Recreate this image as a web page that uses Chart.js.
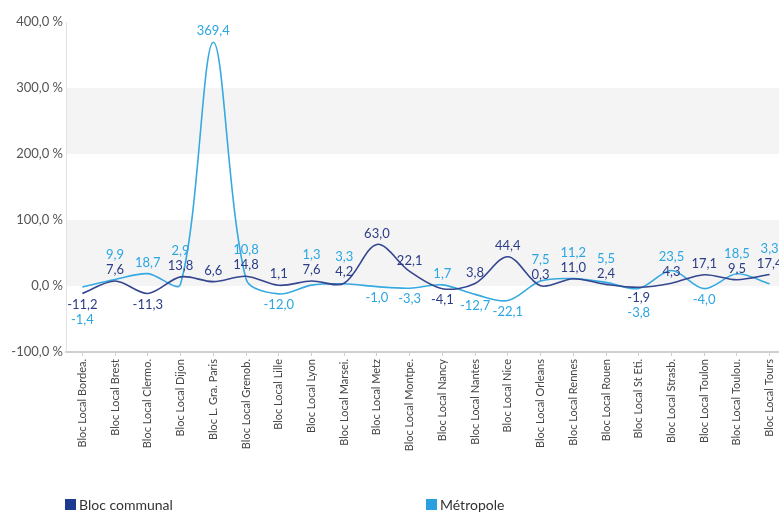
<!DOCTYPE html>
<html>
<head>
<meta charset="utf-8">
<script src="https://cdn.jsdelivr.net/npm/chart.js@4.4.0/dist/chart.umd.min.js"></script>
<style>
html,body{margin:0;padding:0;background:#fff;overflow:hidden;width:779px;height:514px;}
#wrap{position:relative;width:786px;height:514px;}
.leg{position:absolute;top:496px;font-family:Lato,"Open Sans",sans-serif;font-size:14px;color:#333;display:flex;align-items:center;}
.leg span.sq{display:inline-block;width:11px;height:11px;margin-right:3px;}
</style>
</head>
<body>
<div id="wrap">
<canvas id="c" width="786" height="514"></canvas>
<div class="leg" style="left:65px"><span class="sq" style="background:#1c3a8f"></span>Bloc communal</div>
<div class="leg" style="left:426px"><span class="sq" style="background:#2aa0e0"></span>Métropole</div>
</div>
<script>
const categories = ["Bloc Local Bordea.","Bloc Local Brest","Bloc Local Clermo.","Bloc Local Dijon","Bloc L. Gra. Paris","Bloc Local Grenob.","Bloc Local Lille","Bloc Local Lyon","Bloc Local Marsei.","Bloc Local Metz","Bloc Local Montpe.","Bloc Local Nancy","Bloc Local Nantes","Bloc Local Nice","Bloc Local Orleans","Bloc Local Rennes","Bloc Local Rouen","Bloc Local St Eti.","Bloc Local Strasb.","Bloc Local Toulon","Bloc Local Toulou.","Bloc Local Tours"];
const blocCommunal = [-11.2, 7.6, -11.3, 13.8, 6.6, 14.8, 1.1, 7.6, 4.2, 63.0, 22.1, -4.1, 3.8, 44.4, 0.3, 11.0, 2.4, -1.9, 4.3, 17.1, 9.5, 17.4];
const metropole = [-1.4, 9.9, 18.7, 2.9, 369.4, 10.8, -12.0, 1.3, 3.3, -1.0, -3.3, 1.7, -12.7, -22.1, 7.5, 11.2, 5.5, -3.8, 23.5, -4.0, 18.5, 3.3];
const yTicks = [-100, 0, 100, 200, 300, 400];
const bands = [[0,100],[200,300]];

const DARK = '#34468f';
const LIGHT = '#36a9e0';
const DARK_TXT = '#2c3c86';
const LIGHT_TXT = '#2ba6e2';
const FONT = 'Lato, "Open Sans", sans-serif';

const fmt = v => v.toFixed(1).replace('.', ',');

const bandPlugin = {
  id: 'bands',
  beforeDatasetsDraw(chart) {
    const {ctx, chartArea, scales} = chart;
    ctx.save();
    ctx.fillStyle = '#f4f4f4';
    bands.forEach(([a,b]) => {
      const y1 = scales.y.getPixelForValue(b), y2 = scales.y.getPixelForValue(a);
      ctx.fillRect(chartArea.left + 1, y1, chartArea.right - chartArea.left, y2 - y1);
    });
    ctx.restore();
  }
};

const labelPlugin = {
  id: 'vlabels',
  afterDatasetsDraw(chart) {
    const {ctx} = chart;
    const m0 = chart.getDatasetMeta(0), m1 = chart.getDatasetMeta(1);
    ctx.save();
    ctx.font = '13px ' + FONT;
    ctx.textAlign = 'center';
    ctx.textBaseline = 'middle';
    categories.forEach((c, i) => {
      const d = blocCommunal[i], l = metropole[i];
      const pd = m0.data[i], pl = m1.data[i];
      let yd = d >= 0 ? pd.y - 11 : pd.y + 11;
      let yl;
      if (l >= 0) {
        yl = pl.y - 11;
        if (d >= 0) yl = Math.min(yl, yd - 15);
      } else {
        yl = pl.y + 11;
        if (d < 0) yl = Math.max(yl, yd + 15);
      }
      ctx.fillStyle = DARK_TXT;
      ctx.fillText(fmt(d), pd.x, yd);
      ctx.fillStyle = LIGHT_TXT;
      ctx.fillText(fmt(l), pl.x, yl);
    });
    ctx.restore();
  }
};

new Chart(document.getElementById('c'), {
  type: 'line',
  data: {
    labels: categories,
    datasets: [
      {label: 'Bloc communal', data: blocCommunal, borderColor: DARK, borderWidth: 1.6, pointRadius: 0, tension: 0.32, fill: false},
      {label: 'Métropole', data: metropole, borderColor: LIGHT, borderWidth: 1.6, pointRadius: 0, tension: 0.32, fill: false}
    ]
  },
  options: {
    responsive: false,
    animation: false,
    layout: {padding: {top: 22, bottom: 40, left: 0, right: 0}},
    plugins: {legend: {display: false}, tooltip: {enabled: false}},
    scales: {
      x: {
        offset: true,
        grid: {display: true, drawOnChartArea: false, drawTicks: true, tickLength: 4, color: '#cfcfcf', offset: false},
        border: {display: true, color: '#cfcfcf', width: 2},
        ticks: {minRotation: 90, maxRotation: 90, autoSkip: false, color: '#444', font: {family: FONT, size: 11}, padding: 3},
        afterFit(s) { s.height = 122; }
      },
      y: {
        min: -100, max: 400,
        afterBuildTicks(s) { s.ticks = yTicks.map(v => ({value: v})); },
        grid: {display: false, drawTicks: false},
        border: {display: true, color: '#e2e2e2', width: 1},
        ticks: {color: '#555', font: {family: FONT, size: 13}, padding: 3, callback: v => fmt(v) + ' %'},
        afterFit(s) { s.width = 66; }
      }
    }
  },
  plugins: [bandPlugin, labelPlugin]
});
</script>
</body>
</html>
